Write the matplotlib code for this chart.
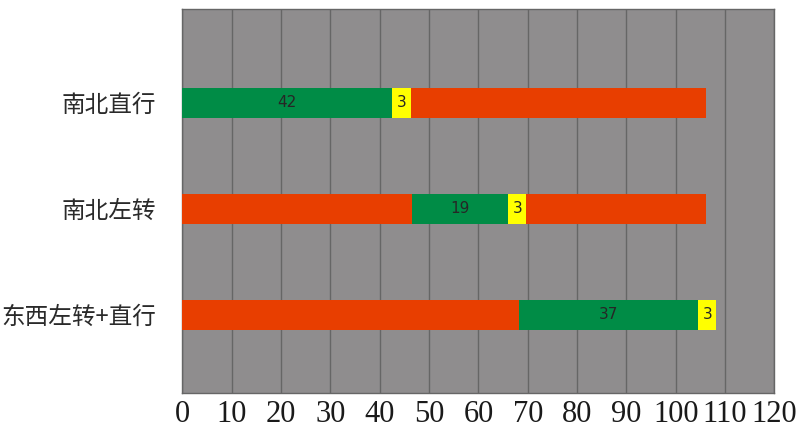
import matplotlib.pyplot as plt
import numpy as np

# phases, top to bottom
phases = ["南北直行", "南北左转", "东西左转+直行"]

# segments per phase: (start, width, colour key, label)
seg_start = [
    [0.0, 42.4, 46.3],
    [0.0, 46.6, 66.1, 69.7],
    [0.0, 68.3, 104.6],
]
seg_width = [
    [42.4, 3.9, 59.9],
    [46.6, 19.5, 3.6, 36.4],
    [68.3, 36.3, 3.6],
]
seg_kind = [
    ["g", "y", "r"],
    ["r", "g", "y", "r"],
    ["r", "g", "y"],
]
seg_text = [
    ["42", "3", ""],
    ["", "19", "3", ""],
    ["", "37", "3"],
]

xticks = np.arange(0, 121, 10)

colors = {"g": "#008c46", "y": "#ffff00", "r": "#e83e00"}
bg = "#8f8d8e"

fig = plt.figure(figsize=(8, 4.32), dpi=100)
ax = fig.add_axes([0.228, 0.0905, 0.740, 0.889])
ax.set_facecolor(bg)

for i in range(len(phases)):
    for s, w, k, t in zip(seg_start[i], seg_width[i], seg_kind[i], seg_text[i]):
        ax.barh(i, w, left=s, height=0.29, color=colors[k], zorder=3)
        if t:
            ax.text(s + w / 2, i, t, ha="center", va="center", fontsize=11,
                    color="#262626", family="DejaVu Sans", zorder=4)

ax.set_xlim(0, 120)
ax.set_ylim(2.736, -0.887)
ax.set_xticks(xticks)
ax.set_xticklabels([str(v) for v in xticks], family="Liberation Serif", fontsize=22,
                   color="#1a1a1a")
ax.set_yticks(range(len(phases)))
ax.set_yticklabels(phases, family=["Noto Sans CJK SC", "DejaVu Sans"], fontsize=17,
                   color="#2a2a2a")
ax.tick_params(axis="both", length=0)
ax.tick_params(axis="y", pad=19)
ax.tick_params(axis="x", pad=5)
ax.xaxis.grid(True, color="#666666", lw=1, zorder=1)
ax.set_axisbelow(True)
for sp in ax.spines.values():
    sp.set_color("#666666")
    sp.set_linewidth(1)

plt.savefig("out.png", dpi=100)
